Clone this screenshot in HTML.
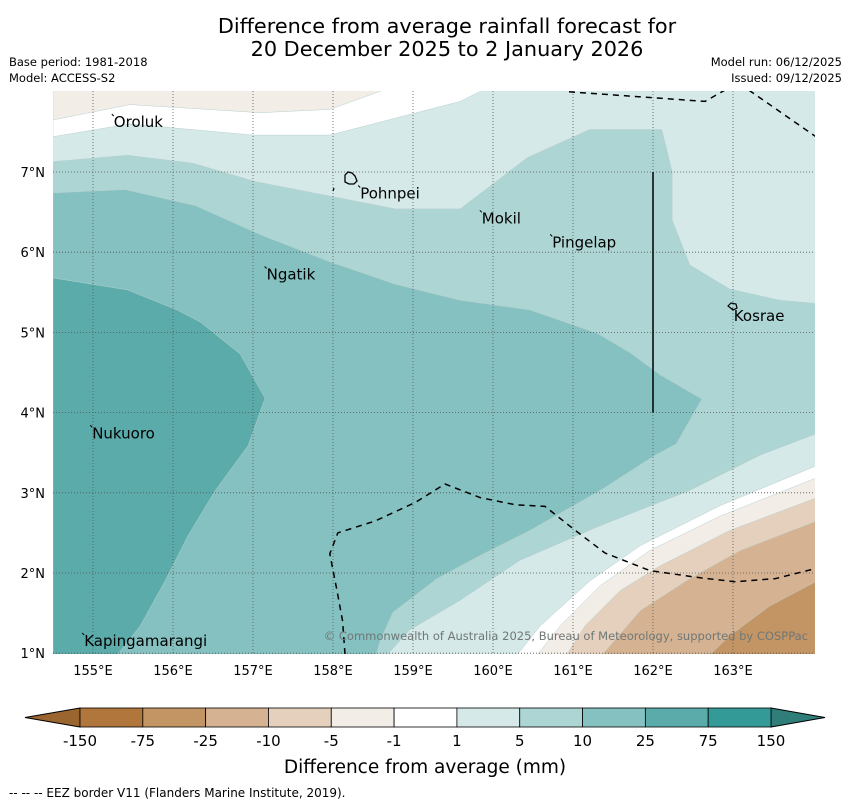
<!DOCTYPE html>
<html><head><meta charset="utf-8">
<style>
body{margin:0;background:#fff;width:850px;height:804px;overflow:hidden;font-family:"DejaVu Sans","Liberation Sans",sans-serif;}
svg{display:block}
</style></head>
<body>
<svg id="chart" width="850" height="804" viewBox="0 0 850 804" xmlns="http://www.w3.org/2000/svg">
<text x="447" y="33" font-size="20.8" text-anchor="middle" fill="#000">Difference from average rainfall forecast for</text>
<text x="447" y="56" font-size="20.8" text-anchor="middle" fill="#000">20 December 2025 to 2 January 2026</text>
<text x="9" y="66" font-size="11.5">Base period: 1981-2018</text>
<text x="9" y="82" font-size="11.5">Model: ACCESS-S2</text>
<text x="842" y="66" font-size="11.5" text-anchor="end">Model run: 06/12/2025</text>
<text x="842" y="82" font-size="11.5" text-anchor="end">Issued: 09/12/2025</text>
<defs><clipPath id="mapclip"><rect x="53" y="91" width="762" height="563"/></clipPath></defs>
<g id="map" clip-path="url(#mapclip)"></g>
<g id="axes"></g>
<g id="cbar"></g>
<text x="425" y="773" font-size="18.5" text-anchor="middle">Difference from average (mm)</text>
<text x="9" y="797" font-size="12">--  --  -- EEZ border V11 (Flanders Marine Institute, 2019).</text>
</svg>
<script>
const lonTicks=[155,156,157,158,159,160,161,162,163];
const latTicks=[1,2,3,4,5,6,7];
const levelLabels=["-150","-75","-25","-10","-5","-1","1","5","10","25","75","150"];
const levelColors=["#b0763c","#c39565","#d4b292","#e5d0bd","#f2ede6","#ffffff","#d5e9e8","#acd5d4","#84c1c0","#5aabaa","#349a98"];
const baseColor="#d5e9e8";
const topBeige=[[154.5,8.05],[154.5,7.65],[155.46,7.84],[157.09,7.74],[157.96,7.78],[158.71,8.05]];
const topWhite=[[154.5,8.05],[154.5,7.44],[155.46,7.6],[157,7.46],[157.96,7.46],[159.59,7.88],[159.93,8.05]];
const band5=[[154.5,7.13],[155.43,7.21],[156.25,7.11],[157.03,6.88],[157.96,6.7],[158.78,6.54],[159.59,6.54],[160.43,7.18],[161.21,7.53],[162.11,7.53],[162.24,7.0],[162.24,6.4],[162.46,5.84],[162.96,5.54],[163.59,5.4],[164.05,5.36],[164.05,3.74],[163.34,3.47],[162.46,3.03],[161.34,2.59],[160.34,2.16],[159.59,1.66],[158.96,1.29],[158.65,0.95],[154.5,0.95]];
const band10=[[154.5,6.74],[155.4,6.78],[156.28,6.58],[157.09,6.22],[157.96,5.88],[158.78,5.6],[159.59,5.4],[160.46,5.28],[161.3,4.99],[161.71,4.75],[162.09,4.47],[162.61,4.17],[162.29,3.61],[162.03,3.47],[161.34,3.03],[160.46,2.53],[159.84,2.22],[159.3,1.93],[158.75,1.51],[158.59,1.16],[158.53,0.95],[154.5,0.95]];
const band25=[[154.5,5.68],[155.43,5.53],[156.05,5.28],[156.34,5.13],[156.84,4.73],[157.15,4.18],[156.94,3.59],[156.53,3.03],[156.19,2.47],[155.9,1.9],[155.59,1.34],[155.28,0.95],[154.5,0.95]];
const bandNeg1=[[164.05,3.34],[162.84,2.84],[161.84,2.34],[161.21,1.9],[160.59,1.34],[160.28,0.95],[164.05,0.95]];
const bandNeg5=[[164.05,3.19],[162.84,2.71],[161.96,2.28],[161.34,1.84],[160.84,1.34],[160.53,0.95],[164.05,0.95]];
const bandNeg10=[[164.05,2.94],[162.96,2.53],[162.09,2.09],[161.59,1.78],[161.15,1.34],[160.9,0.95],[164.05,0.95]];
const bandNeg25=[[164.05,2.65],[163.09,2.28],[162.46,1.93],[161.84,1.53],[161.34,0.95],[164.05,0.95]];
const bandNeg75=[[164.05,1.9],[163.46,1.59],[162.96,1.22],[162.68,0.95],[164.05,0.95]];
const eezTop1=[[160.95,8.0],[162.65,7.88],[162.95,8.05]];
const eezTop2=[[163.2,8.02],[164.05,7.43]];
const eezBottom=[[158.15,0.99],[158.12,1.4],[158.05,1.78],[157.96,2.24],[158.06,2.5],[158.53,2.65],[159.03,2.88],[159.4,3.11],[159.84,2.94],[160.28,2.85],[160.65,2.83],[161.03,2.53],[161.4,2.25],[161.96,2.03],[162.59,1.94],[163.03,1.89],[163.53,1.93],[164.05,2.06]];
const boundaryLine=[[162,7],[162,4]];
const placeNames=["Oroluk","Pohnpei","Mokil","Pingelap","Ngatik","Kosrae","Nukuoro","Kapingamarangi"];
const placeLon=[155.26,158.34,159.86,160.74,157.17,163.01,154.99,154.89];
const placeLat=[7.56,6.67,6.36,6.06,5.66,5.14,3.68,1.09];

const X=lon=>93+(lon-155)*80;
const Y=lat=>172-(lat-7)*80.2;
const NS="http://www.w3.org/2000/svg";
function mk(tag,attrs,parent){const e=document.createElementNS(NS,tag);for(const k in attrs)e.setAttribute(k,attrs[k]);parent.appendChild(e);return e;}
const pts=a=>a.map(p=>X(p[0]).toFixed(1)+","+Y(p[1]).toFixed(1)).join(" ");
const map=document.getElementById("map");
let r=mk("rect",{x:53,y:91,width:762,height:563,fill:baseColor},map);


const layers=[[band5,7,'contour-5-to-10'],[band10,8,'contour-10-to-25'],[band25,9,'contour-25-to-75'],[topWhite,5,'contour-top-near-zero'],[topBeige,4,'contour-top-minus-5'],[bandNeg1,5,'contour-near-zero'],[bandNeg5,4,'contour-minus-5-to-1'],[bandNeg10,3,'contour-minus-10-to-5'],[bandNeg25,2,'contour-minus-25-to-10'],[bandNeg75,1,'contour-minus-75-to-25']];
layers.forEach(l=>{const p=mk("polygon",{points:pts(l[0]),fill:levelColors[l[1]],stroke:"#b9cfce","stroke-width":0.5},map);

});
lonTicks.forEach(v=>{const g=mk("line",{x1:X(v),x2:X(v),y1:91,y2:654,stroke:"#555","stroke-width":0.8,"stroke-dasharray":"1,2"},map);

});
latTicks.forEach(v=>{const g=mk("line",{x1:53,x2:815,y1:Y(v),y2:Y(v),stroke:"#555","stroke-width":0.8,"stroke-dasharray":"1,2"},map);

});
[eezTop1,eezTop2,eezBottom].forEach((a,i)=>{const e=mk("polyline",{points:pts(a),fill:"none",stroke:"#000","stroke-width":1.5,"stroke-dasharray":"6,5"},map);

});
const bl=mk("polyline",{points:pts(boundaryLine),fill:"none",stroke:"#000","stroke-width":1.5},map);


const pi=mk("path",{d:"M345,175 l3,-3 l4,1 l3,3 l2,5 l-3,3 l-5,0 l-4,-2 z M334,188 l-1,3",fill:"none",stroke:"#000","stroke-width":1.3},map);


const ki=mk("path",{d:"M728,306 l3,-3 l5,1 l1,4 l-4,2 z",fill:"none",stroke:"#000","stroke-width":1.2},map);


placeNames.forEach((n,i)=>{const t=mk("text",{x:X(placeLon[i]),y:Y(placeLat[i]),"font-size":15,fill:"#000"},map);t.textContent=n;


const d=mk("line",{x1:X(placeLon[i])-2,y1:Y(placeLat[i])-13,x2:X(placeLon[i]),y2:Y(placeLat[i])-11,stroke:"#000","stroke-width":1},map);

});
const cr=mk("text",{x:808,y:640,"font-size":11.5,fill:"#6f7775","text-anchor":"end"},map);cr.textContent="© Commonwealth of Australia 2025, Bureau of Meteorology, supported by COSPPac";


const axes=document.getElementById("axes");
lonTicks.forEach(v=>{const t=mk("text",{x:X(v),y:675,"font-size":13,"text-anchor":"middle"},axes);t.textContent=v+"°E";

});
latTicks.forEach(v=>{const t=mk("text",{x:45,y:Y(v)+5,"font-size":13,"text-anchor":"end"},axes);t.textContent=v+"°N";

});
const cb=document.getElementById("cbar");
const cx0=80,cx1=771,cy0=708,cy1=727,n=levelColors.length,w=(cx1-cx0)/n;
let lt=mk("polygon",{points:`${cx0},${cy0} 25,${(cy0+cy1)/2} ${cx0},${cy1}`,fill:"#9b652f",stroke:"#000","stroke-width":1},cb);


let rt=mk("polygon",{points:`${cx1},${cy0} 825,${(cy0+cy1)/2} ${cx1},${cy1}`,fill:"#2f7e7a",stroke:"#000","stroke-width":1},cb);


levelColors.forEach((c,i)=>{const b=mk("rect",{x:cx0+i*w,y:cy0,width:w,height:cy1-cy0,fill:c,stroke:"#000","stroke-width":0.8},cb);

});
levelLabels.forEach((l,i)=>{const t=mk("text",{x:cx0+i*w,y:746,"font-size":15,"text-anchor":"middle"},cb);t.textContent=l;

});
</script>
</body></html>
